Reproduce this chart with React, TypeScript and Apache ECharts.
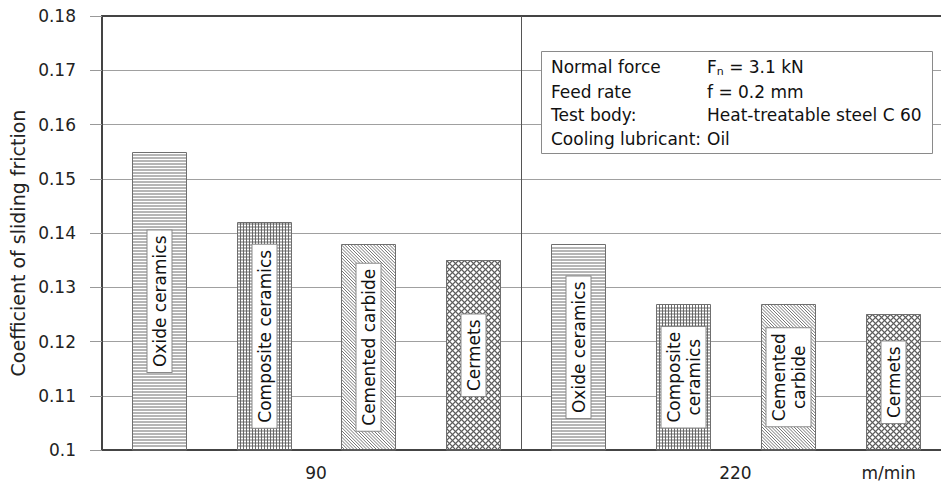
import React, { useEffect, useRef } from 'react';
import * as echarts from 'echarts';

// ---------- data ----------
const speeds = ['90', '220'];
const speedUnit = 'm/min';
const materials = ['Oxide ceramics', 'Composite ceramics', 'Cemented carbide', 'Cermets'];
const barLabels90 = ['Oxide ceramics', 'Composite ceramics', 'Cemented carbide', 'Cermets'];
const barLabels220 = ['Oxide ceramics', 'Composite\nceramics', 'Cemented\ncarbide', 'Cermets'];
const friction90 = [0.155, 0.142, 0.138, 0.135];
const friction220 = [0.138, 0.127, 0.127, 0.125];
const yMin = 0.1;
const yMax = 0.18;
const yStep = 0.01;
const yAxisTitle = 'Coefficient of sliding friction';
const legendKeys = ['Normal force', 'Feed rate', 'Test body:', 'Cooling lubricant:'];
const legendValues = ['F_n = 3.1 kN', 'f = 0.2 mm', 'Heat-treatable steel C 60', 'Oil'];

// ---------- styling ----------
const FONT = '"DejaVu Sans", "Liberation Sans", sans-serif';
const PAT = '#5c5c5c';
const groupValues = [friction90, friction220];
const groupLabels = [barLabels90, barLabels220];
const nMat = materials.length;

// bar slots along a linear index axis
const barData: number[][] = [];
const barLabelList: string[] = [];
groupValues.forEach((vals, g) => {
  vals.forEach((v, j) => {
    barData.push([g * nMat + j, v, j]);
    barLabelList.push(groupLabels[g][j]);
  });
});
const xMin = -0.54;
const xMax = 7.46;
const groupCenters = speeds.map((_, g) => g * nMat + (nMat - 1) / 2);
const unitPos = 6.96;
const xLabelValues = [...groupCenters, unitPos];
const xLabelTexts = [...speeds, speedUnit];
const dividerPos = nMat - 0.54;

function line(x1: number, y1: number, x2: number, y2: number, w = 0.9) {
  return {
    type: 'line',
    silent: true,
    shape: { x1, y1, x2, y2 },
    style: { stroke: PAT, lineWidth: w },
  };
}

function hLines(x0: number, x1: number, y0: number, y1: number, step: number, out: any[]) {
  for (let y = y1 - step; y > y0 + 0.5; y -= step) out.push(line(x0, y, x1, y));
}
function vLines(x0: number, x1: number, y0: number, y1: number, step: number, out: any[]) {
  for (let x = x0 + step; x < x1 - 0.5; x += step) out.push(line(x, y0, x, y1));
}
function diag(x0: number, x1: number, y0: number, y1: number, step: number, dir: number, out: any[], w = 0.9) {
  if (dir === 1) {
    for (let k = y0 - x1; k <= y1 - x0; k += step) {
      const xa = Math.max(x0, y0 - k);
      const xb = Math.min(x1, y1 - k);
      if (xb > xa) out.push(line(xa, xa + k, xb, xb + k, w));
    }
  } else {
    for (let k = x0 + y0; k <= x1 + y1; k += step) {
      const xa = Math.max(x0, k - y1);
      const xb = Math.min(x1, k - y0);
      if (xb > xa) out.push(line(xa, k - xa, xb, k - xb, w));
    }
  }
}

function renderBar(params: any, api: any) {
  const xi = api.value(0);
  const v = api.value(1);
  const mat = api.value(2);
  const top = api.coord([xi, v]);
  const bottom = api.coord([xi, yMin]);
  const slot = api.size([1, 0])[0];
  const w = Math.round(slot * 0.515);
  const x0 = Math.round(top[0] - w / 2) + 0.5;
  const x1 = x0 + w;
  const y0 = Math.round(top[1]) + 0.5;
  const y1 = bottom[1] - 1;
  const children: any[] = [];
  children.push({
    type: 'rect',
    shape: { x: x0, y: y0, width: x1 - x0, height: y1 - y0 },
    style: { fill: '#fff' },
  });
  if (mat === 0) {
    hLines(x0, x1, y0, y1, 3, children);
  } else if (mat === 1) {
    hLines(x0, x1, y0, y1, 3, children);
    vLines(x0, x1, y0, y1, 3, children);
  } else if (mat === 2) {
    diag(x0, x1, y0, y1, 3.2, 1, children, 0.85);
  } else {
    diag(x0, x1, y0, y1, 6, 1, children, 1.1);
    diag(x0, x1, y0, y1, 6, -1, children, 1.1);
  }
  children.push({
    type: 'rect',
    shape: { x: x0, y: y0, width: x1 - x0, height: bottom[1] - y0 },
    style: { fill: 'none', stroke: '#6f6f6f', lineWidth: 1 },
  });
  const label = barLabelList[params.dataIndex];
  children.push({
    type: 'text',
    x: (x0 + x1) / 2,
    y: (y0 + bottom[1]) / 2,
    rotation: Math.PI / 2,
    style: {
      text: label,
      fontSize: 17,
      fontFamily: FONT,
      fill: '#111',
      align: 'center',
      verticalAlign: 'middle',
      lineHeight: 20,
      backgroundColor: '#fff',
      borderColor: '#8a8a8a',
      borderWidth: 1,
      padding: [2, 5, 2, 5],
    },
  });
  return { type: 'group', children };
}

function legendGraphic() {
  const bx = 541.5;
  const by = 51.5;
  const rowY = [67, 91.5, 115, 138.5];
  const els: any[] = [
    {
      type: 'rect',
      shape: { x: bx, y: by, width: 391, height: 102 },
      style: { fill: '#fff', stroke: '#8a8a8a', lineWidth: 1 },
      z: 100,
    },
  ];
  legendKeys.forEach((k, i) => {
    els.push({
      type: 'text',
      x: 551,
      y: rowY[i],
      z: 101,
      style: { text: k, fontSize: 17, fontFamily: FONT, fill: '#111', verticalAlign: 'middle' },
    });
    const val = legendValues[i];
    const m = val.match(/^(\w)_(\w)(.*)$/);
    els.push({
      type: 'text',
      x: 707,
      y: rowY[i],
      z: 101,
      style: m
        ? {
            text: `{a|${m[1]}}{b|${m[2]}}{a|${m[3]}}`,
            fontFamily: FONT,
            fill: '#111',
            verticalAlign: 'middle',
            rich: {
              a: { fontSize: 17, fontFamily: FONT, fill: '#111', lineHeight: 20 },
              b: { fontSize: 11, fontFamily: FONT, fill: '#111', lineHeight: 11, verticalAlign: 'bottom' },
            },
          }
        : { text: val, fontSize: 17, fontFamily: FONT, fill: '#111', verticalAlign: 'middle' },
    });
  });
  return els;
}

export default function App() {
  const ref = useRef<HTMLDivElement>(null);
  useEffect(() => {
    document.body.style.margin = '0';
    if (!ref.current) return;
    const chart = echarts.init(ref.current, null, { renderer: 'svg' });
    const option: any = {
      animation: false,
      backgroundColor: '#fff',
      textStyle: { fontFamily: FONT },
      grid: { left: 102, right: 0, top: 16, bottom: 35, containLabel: false },
      xAxis: [
        {
          type: 'value',
          min: xMin,
          max: xMax,
          position: 'bottom',
          axisLine: { show: true, onZero: false, lineStyle: { color: '#444', width: 2 } },
          axisTick: { show: false },
          splitLine: { show: false },
          axisLabel: {
            show: true,
            customValues: xLabelValues,
            formatter: (val: number, idx: number) => {
              const i = xLabelValues.findIndex((p) => Math.abs(p - val) < 1e-6);
              return i >= 0 ? xLabelTexts[i] : xLabelTexts[idx] ?? '';
            },
            fontSize: 17,
            fontFamily: FONT,
            color: '#222',
            margin: 14,
          },
        },
        {
          type: 'value',
          min: xMin,
          max: xMax,
          position: 'top',
          axisLine: { show: true, onZero: false, lineStyle: { color: '#444', width: 2 } },
          axisTick: { show: false },
          axisLabel: { show: false },
          splitLine: { show: false },
        },
      ],
      yAxis: {
        type: 'value',
        min: yMin,
        max: yMax,
        interval: yStep,
        position: 'left',
        name: yAxisTitle,
        nameLocation: 'middle',
        nameGap: 72,
        nameTextStyle: { fontSize: 19, fontFamily: FONT, color: '#222', padding: [0, 20, 0, 0] },
        axisLine: { show: true, onZero: false, lineStyle: { color: '#444', width: 2 } },
        axisTick: { show: true, length: 12, lineStyle: { color: '#999', width: 1 } },
        axisLabel: {
          fontSize: 17,
          fontFamily: FONT,
          color: '#222',
          margin: 26,
          formatter: (v: number) => String(+v.toFixed(2)),
        },
        splitLine: { show: true, lineStyle: { color: '#a0a0a0', width: 1 } },
      },
      series: [
        {
          type: 'line',
          xAxisIndex: 0,
          data: [
            [dividerPos, yMin],
            [dividerPos, yMax],
          ],
          symbol: 'none',
          lineStyle: { color: '#555', width: 1 },
          silent: true,
          z: 1,
        },
        {
          type: 'custom',
          xAxisIndex: 0,
          data: barData,
          encode: { x: 0, y: 1 },
          renderItem: renderBar,
          z: 3,
        },
      ],
      graphic: legendGraphic(),
    };
    chart.setOption(option);
    return () => chart.dispose();
  }, []);
  return <div ref={ref} style={{ width: 941, height: 485 }} />;
}
